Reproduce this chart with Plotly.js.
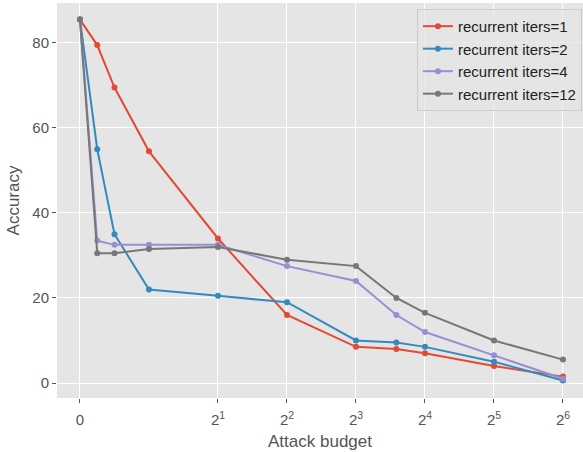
<!DOCTYPE html>
<html>
<head>
<meta charset="utf-8">
<script src="https://cdn.plot.ly/plotly-3.0.1.min.js"></script>
<style>html,body{margin:0;padding:0;background:#fff;}#chart{width:583px;height:452px;}</style>
</head>
<body>
<div id="chart"></div>
<script>
// Data (attack budget on a symlog base-2 scale)
const budgets = [0, 0.25, 0.5, 1, 2, 4, 8, 12, 16, 32, 64];
const iters1  = [85.5, 79.5, 69.5, 54.5, 34.0, 16.0, 8.5, 8.0, 7.0, 4.0, 1.5];
const iters2  = [85.5, 55.0, 35.0, 22.0, 20.5, 19.0, 10.0, 9.5, 8.5, 5.0, 0.6];
const iters4  = [85.5, 33.5, 32.5, 32.5, 32.5, 27.5, 24.0, 16.0, 12.0, 6.5, 1.0];
const iters12 = [85.5, 30.5, 30.5, 31.5, 32.0, 29.0, 27.5, 20.0, 16.5, 10.0, 5.5];
const seriesNames = ["recurrent iters=1", "recurrent iters=2", "recurrent iters=4", "recurrent iters=12"];
const tickValuesRaw = [0, 2, 4, 8, 16, 32, 64];
const tickLabels = ["0", "2<sup>1</sup>", "2<sup>2</sup>", "2<sup>3</sup>", "2<sup>4</sup>", "2<sup>5</sup>", "2<sup>6</sup>"];

// symlog transform: base 2, linthresh 2, linscale 1 (normalised)
function symlog(x) {
  const a = Math.abs(x);
  const v = a <= 2 ? a : 1 + Math.log2(a);
  return x < 0 ? -v : v;
}

const colors = ["#E24A33", "#348ABD", "#988ED5", "#777777"];
const allY = [iters1, iters2, iters4, iters12];
const xs = budgets.map(symlog);

const traces = allY.map((ys, i) => ({
  x: xs, y: ys, name: seriesNames[i], type: "scatter", mode: "lines+markers",
  line: {color: colors[i], width: 2},
  marker: {color: colors[i], size: 6}
}));

const font = {family: "Liberation Sans, Arial, sans-serif", color: "#555555"};

const layout = {
  width: 583, height: 452,
  margin: {l: 57, r: 0, t: 3, b: 54},
  paper_bgcolor: "#ffffff",
  plot_bgcolor: "#E5E5E5",
  font: font,
  showlegend: true,
  xaxis: {
    range: [-0.333, 7.29],
    tickmode: "array",
    tickvals: tickValuesRaw.map(symlog),
    ticktext: tickLabels,
    ticks: "outside", ticklen: 4, tickwidth: 1, tickcolor: "#555555",
    ticklabelstandoff: 4,
    tickfont: {size: 15, color: "#555555", family: font.family},
    showgrid: true, gridcolor: "#ffffff", gridwidth: 1,
    zeroline: false, showline: false,
    title: {text: "Attack budget", font: {size: 17, color: "#555555", family: font.family}, standoff: 8}
  },
  yaxis: {
    range: [-3.53, 89.4],
    tickmode: "array",
    tickvals: [0, 20, 40, 60, 80],
    ticks: "outside", ticklen: 4, tickwidth: 1, tickcolor: "#555555",
    tickfont: {size: 15, color: "#555555", family: font.family},
    showgrid: true, gridcolor: "#ffffff", gridwidth: 1,
    zeroline: false, showline: false,
    title: {text: "Accuracy", font: {size: 17, color: "#555555", family: font.family}, standoff: 8}
  },
  legend: {
    x: 0.998, xanchor: "right", y: 0.985, yanchor: "top",
    bgcolor: "rgba(229,229,229,0.8)", bordercolor: "#cccccc", borderwidth: 1,
    font: {size: 15, color: "#222222", family: font.family},
    tracegroupgap: 0
  }
};

Plotly.newPlot("chart", traces, layout, {displayModeBar: false, staticPlot: true});
</script>
</body>
</html>
